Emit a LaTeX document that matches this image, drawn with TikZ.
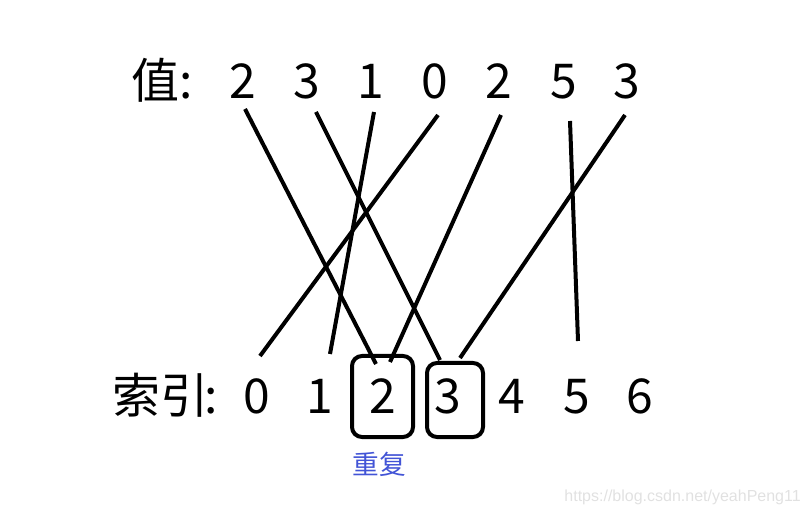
\documentclass[tikz,border=0pt]{standalone}
\usepackage{fontspec}
\setmainfont{Noto Sans CJK SC}
\newfontfamily\wmfont{Liberation Sans}
\definecolor{dupblue}{RGB}{66,84,214}
\definecolor{wmgray}{RGB}{225,225,225}
\begin{document}
\begin{tikzpicture}[x=0.75pt,y=-0.75pt,
  lbl/.style={font=\fontsize{36}{36}\selectfont, anchor=base, inner sep=0pt},
  link/.style={line width=3pt},
  dupbox/.style={draw, line width=3pt, rounded corners=7.5pt, minimum width=45pt, inner sep=0pt}]
\useasboundingbox (0,0) rectangle (810,516);
% top row
\node[lbl] (vlab) at (155,99) {值};
\node[lbl] (vcol) at (186,99) {:};
\node[lbl] (v0) at (243,99) {2};
\node[lbl] (v1) at (307,99) {3};
\node[lbl] (v2) at (371,99) {1};
\node[lbl] (v3) at (435,99) {0};
\node[lbl] (v4) at (499,99) {2};
\node[lbl] (v5) at (564,99) {5};
\node[lbl] (v6) at (627,99) {3};
% bottom row
\node[lbl] (ilab) at (160,413) {索引};
\node[lbl] (icol) at (211,413) {:};
\node[lbl] (i0) at (257,413) {0};
\node[lbl] (i1) at (320,413) {1};
\node[lbl] (i2) at (383,413) {2};
\node[lbl] (i3) at (448,413) {3};
\node[lbl] (i4) at (512,413) {4};
\node[lbl] (i5) at (577,413) {5};
\node[lbl] (i6) at (640,413) {6};
% duplicate boxes
\draw[line width=3pt, rounded corners=7.5pt] (352,356) rectangle (413,437);
\draw[line width=3pt, rounded corners=7.5pt] (427,363) rectangle (483,437);
\node[text=dupblue, font=\fontsize{20}{20}\selectfont, inner sep=0pt] (dup) at (379,464) {重复};
% connector end points
\coordinate (a0) at (245,109);
\coordinate (a1) at (316,112);
\coordinate (a2) at (374,112);
\coordinate (a3) at (438,115);
\coordinate (a4) at (501,115);
\coordinate (a5) at (570,121);
\coordinate (a6) at (625,115);
\coordinate (b0) at (376,364);
\coordinate (b1) at (440,360);
\coordinate (b2) at (330,354);
\coordinate (b3) at (260,356);
\coordinate (b4) at (390,362);
\coordinate (b5) at (578,341);
\coordinate (b6) at (460,358);
\draw[link] (a0) -- (b0);
\draw[link] (a1) -- (b1);
\draw[link] (a2) -- (b2);
\draw[link] (a3) -- (b3);
\draw[link] (a4) -- (b4);
\draw[link] (a5) -- (b5);
\draw[link] (a6) -- (b6);
% watermark
\node[text=wmgray, font=\wmfont\fontsize{12}{12}\selectfont, anchor=east, inner sep=0pt] (wm) at (801,497) {https://blog.csdn.net/yeahPeng11};
\end{tikzpicture}
\end{document}
